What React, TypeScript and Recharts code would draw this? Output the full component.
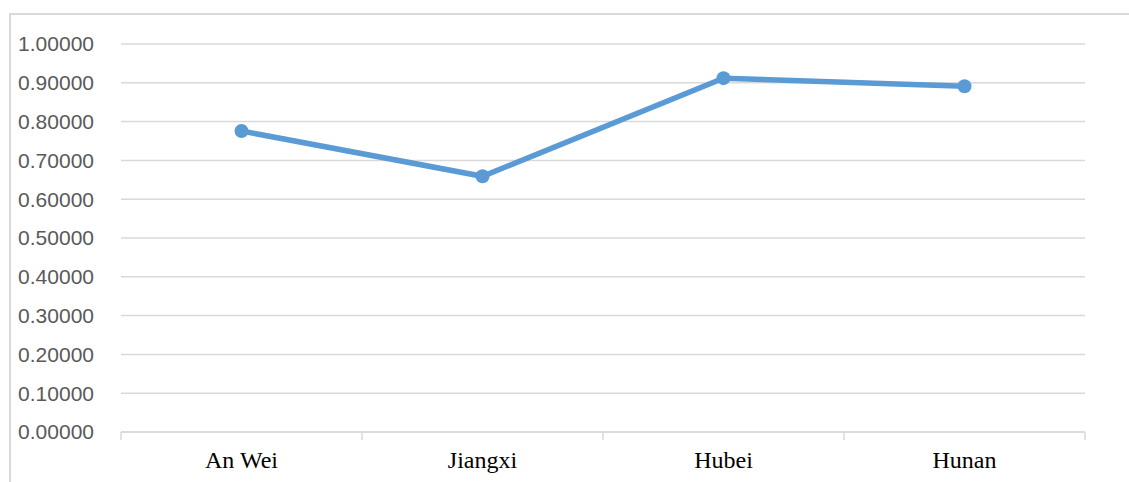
import React from 'react';
import { LineChart, Line, XAxis, YAxis, CartesianGrid } from 'recharts';

const provinces = ['An Wei', 'Jiangxi', 'Hubei', 'Hunan'];
const scores = [0.7756, 0.659, 0.912, 0.891];
const yTicks = [0, 0.1, 0.2, 0.3, 0.4, 0.5, 0.6, 0.7, 0.8, 0.9, 1.0];

const GRID = '#d9d9d9';
const LINE = '#5b9bd5';
const TICK_SIZE = 8;
const TICK_MARGIN = 11;

// x is a number axis from 0 to 4: whole numbers get the little category-boundary
// ticks, half numbers get the province labels
const xTicks = [0, 0.5, 1, 1.5, 2, 2.5, 3, 3.5, 4];

const chartData = provinces.map((name, i) => ({
  name,
  pos: i + 0.5,
  value: scores[i],
}));

const BoundaryTick = (props: any) => {
  const { x, y, payload } = props;
  const v = payload.value as number;
  const base = y - TICK_SIZE - TICK_MARGIN;
  if (Number.isInteger(v)) {
    return <line x1={x} x2={x} y1={base} y2={base + TICK_SIZE} stroke={GRID} strokeWidth={1.5} />;
  }
  return (
    <text
      x={x}
      y={y}
      dy="0.7em"
      textAnchor="middle"
      fill="#000"
      fontFamily="'Liberation Serif', 'Times New Roman', serif"
      fontSize={24}
    >
      {provinces[Math.floor(v)]}
    </text>
  );
};

export default function App() {
  return (
    <div
      style={{
        position: 'absolute',
        left: 0,
        top: 0,
        width: 1129,
        height: 482,
        overflow: 'hidden',
        background: '#fff',
      }}
    >
      <div
        style={{
          position: 'absolute',
          left: 9,
          top: 13,
          width: 1140,
          height: 500,
          border: `2px solid ${GRID}`,
        }}
      />
      <div style={{ position: 'absolute', left: 0, top: 0 }}>
        <LineChart
          width={1129}
          height={482}
          data={chartData}
          margin={{ top: 44, right: 44, bottom: 20, left: 0 }}
        >
          <CartesianGrid vertical={false} stroke={GRID} strokeWidth={1.5} />
          <XAxis
            dataKey="pos"
            type="number"
            domain={[0, 4]}
            ticks={xTicks}
            interval={0}
            height={30}
            axisLine={{ stroke: GRID, strokeWidth: 1.5 }}
            tickLine={false}
            tickSize={TICK_SIZE}
            tickMargin={TICK_MARGIN}
            tick={<BoundaryTick />}
          />
          <YAxis
            type="number"
            domain={[0, 1]}
            ticks={yTicks}
            interval={0}
            width={121}
            axisLine={false}
            tickLine={false}
            tickSize={6}
            tickMargin={21}
            tickFormatter={(v: number) => v.toFixed(5)}
            tick={{ fill: '#595959', fontSize: 21, fontFamily: "'Liberation Sans', Arial, sans-serif" }}
          />
          <Line
            type="linear"
            dataKey="value"
            stroke={LINE}
            strokeWidth={5.5}
            dot={{ r: 7, fill: LINE, stroke: 'none' }}
            activeDot={false}
            isAnimationActive={false}
          />
        </LineChart>
      </div>
    </div>
  );
}
